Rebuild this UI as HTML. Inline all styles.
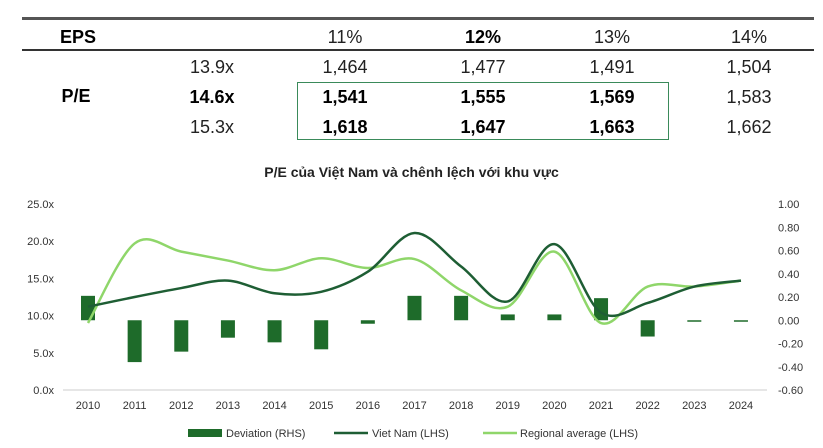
<!DOCTYPE html>
<html><head><meta charset="utf-8"><style>
body{margin:0;width:823px;height:448px;background:#fff;font-family:"Liberation Sans","Noto Sans CJK SC",sans-serif;overflow:hidden;position:relative}
.t{position:absolute;font-size:18px;color:#222;transform:translateX(-50%);white-space:nowrap}
.b{font-weight:bold;color:#000}
</style></head><body>
<div style="position:absolute;left:22px;top:17px;width:792px;height:3px;background:#555"></div>
<div style="position:absolute;left:22px;top:49px;width:792px;height:2px;background:#333"></div>
<div style="position:absolute;left:297px;top:82px;width:370px;height:56px;border:1.5px solid #3a8a5a"></div>
<div class="t b" style="left:78px;top:27px">EPS</div>
<div class="t" style="left:345px;top:27px">11%</div>
<div class="t b" style="left:483px;top:27px">12%</div>
<div class="t" style="left:612px;top:27px">13%</div>
<div class="t" style="left:749px;top:27px">14%</div>
<div class="t b" style="left:76px;top:86px">P/E</div>
<div class="t" style="left:212px;top:57px">13.9x</div>
<div class="t" style="left:345px;top:57px">1,464</div>
<div class="t" style="left:483px;top:57px">1,477</div>
<div class="t" style="left:612px;top:57px">1,491</div>
<div class="t" style="left:749px;top:57px">1,504</div>
<div class="t b" style="left:212px;top:87px">14.6x</div>
<div class="t b" style="left:345px;top:87px">1,541</div>
<div class="t b" style="left:483px;top:87px">1,555</div>
<div class="t b" style="left:612px;top:87px">1,569</div>
<div class="t" style="left:749px;top:87px">1,583</div>
<div class="t" style="left:212px;top:117px">15.3x</div>
<div class="t b" style="left:345px;top:117px">1,618</div>
<div class="t b" style="left:483px;top:117px">1,647</div>
<div class="t b" style="left:612px;top:117px">1,663</div>
<div class="t" style="left:749px;top:117px">1,662</div>
<div style="position:absolute;left:0;width:823px;top:164px;text-align:center;font-size:14px;font-weight:bold;color:#222">P/E của Việt Nam và chênh lệch với khu vực</div>
<svg id="c" width="823" height="448" style="position:absolute;left:0;top:0" font-family="Liberation Sans, sans-serif"></svg>
<script>
const years=[2010,2011,2012,2013,2014,2015,2016,2017,2018,2019,2020,2021,2022,2023,2024];
const deviation=[0.21,-0.36,-0.27,-0.15,-0.19,-0.25,-0.03,0.21,0.21,0.05,0.05,0.19,-0.14,-0.01,0.0];
const vietnam=[11.2,12.5,13.7,14.7,13.0,13.2,15.9,21.1,16.6,11.9,19.6,10.4,11.7,13.9,14.7];
const regional=[9.0,19.7,18.6,17.4,16.1,17.7,16.4,17.6,13.4,11.2,18.6,9.0,13.9,13.9,14.7];
const leftTicks=["0.0x","5.0x","10.0x","15.0x","20.0x","25.0x"];
const rightTicks=["-0.60","-0.40","-0.20","0.00","0.20","0.40","0.60","0.80","1.00"];
const svg=document.getElementById('c');const NS='http://www.w3.org/2000/svg';
function mk(t,a,p){const e=document.createElementNS(NS,t);for(const k in a)e.setAttribute(k,a[k]);(p||svg).appendChild(e);return e;}
const x=i=>88+i*46.64;
const yL=v=>390-v*7.44;
const yR=v=>320.25-v*116.25;
let e=mk('line',{x1:63,x2:767,y1:390,y2:390,stroke:'#ccc'});

leftTicks.forEach((t,i)=>{const el=mk('text',{x:54,y:yL(i*5)+4,'text-anchor':'end','font-size':11,fill:'#333'});el.textContent=t;
});
rightTicks.forEach((t,i)=>{const el=mk('text',{x:778,y:yR(-0.6+i*0.2)+4,'font-size':11,fill:'#333'});el.textContent=t;
});
years.forEach((yr,i)=>{const el=mk('text',{x:x(i),y:409,'text-anchor':'middle','font-size':11,fill:'#333'});el.textContent=yr;
});
deviation.forEach((v,i)=>{const y0=yR(0),y1=yR(v);const h=Math.max(Math.abs(y1-y0),1.5);
const r=mk('rect',{x:x(i)-7,y:Math.min(y0,y1),width:14,height:h,fill:'#1e6b2a'});
});
function path(vals){const p=vals.map((v,i)=>[x(i),yL(v)]);let d='M'+p[0];
for(let i=0;i<p.length-1;i++){const p0=p[Math.max(i-1,0)],p1=p[i],p2=p[i+1],p3=p[Math.min(i+2,p.length-1)];
const c1=[p1[0]+(p2[0]-p0[0])/6,p1[1]+(p2[1]-p0[1])/6],c2=[p2[0]-(p3[0]-p1[0])/6,p2[1]-(p3[1]-p1[1])/6];
d+=' C'+c1+' '+c2+' '+p2;}return d;}
let l1=mk('path',{d:path(regional),fill:'none',stroke:'#8fd66a','stroke-width':2.5});

let l2=mk('path',{d:path(vietnam),fill:'none',stroke:'#1e5e34','stroke-width':2.5});

const lg=mk('g',{});
mk('rect',{x:188,y:429,width:34,height:8,fill:'#1e6b2a'},lg);
let t=mk('text',{x:226,y:437,'font-size':11,fill:'#333'},lg);t.textContent='Deviation (RHS)';
mk('line',{x1:334,x2:368,y1:433,y2:433,stroke:'#1e5e34','stroke-width':2.5},lg);
t=mk('text',{x:372,y:437,'font-size':11,fill:'#333'},lg);t.textContent='Viet Nam (LHS)';
mk('line',{x1:483,x2:517,y1:433,y2:433,stroke:'#8fd66a','stroke-width':2.5},lg);
t=mk('text',{x:520,y:437,'font-size':11,fill:'#333'},lg);t.textContent='Regional average (LHS)';
</script>
</body></html>
